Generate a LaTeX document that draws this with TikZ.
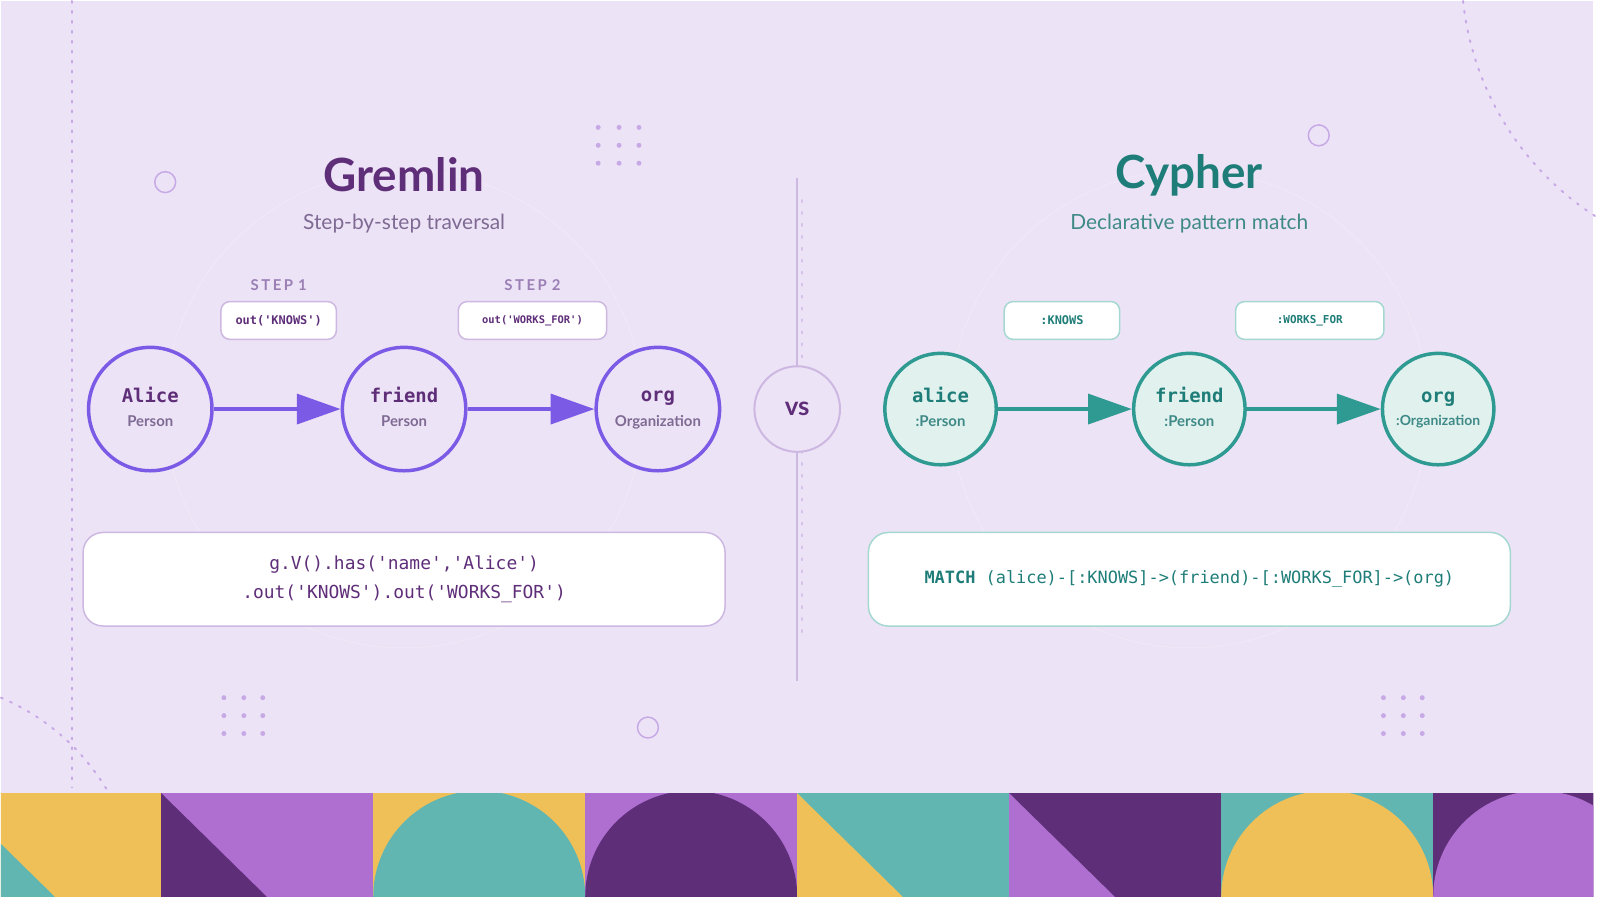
\documentclass[tikz,border=0pt]{standalone}
\usepackage{fontspec}
\usetikzlibrary{arrows.meta}
\setmainfont{Lato}
\setmonofont{DejaVu Sans Mono}
\definecolor{bg}{HTML}{EDE3F6}
\definecolor{gp}{HTML}{5F2E79}
\definecolor{gsub}{HTML}{7F6A94}
\definecolor{gstroke}{HTML}{7B5BE6}
\definecolor{steptxt}{HTML}{9A7FB5}
\definecolor{gbox}{HTML}{CDB8E2}
\definecolor{ct}{HTML}{1E7D78}
\definecolor{csub}{HTML}{3F8A87}
\definecolor{cstroke}{HTML}{2E9A92}
\definecolor{cfill}{HTML}{E0F1EE}
\definecolor{cbox}{HTML}{A6D8D2}
\definecolor{dec}{HTML}{C7A9E6}
\definecolor{yel}{HTML}{EFC058}
\definecolor{teal}{HTML}{62B6B2}
\definecolor{lp}{HTML}{AE6FD0}
\definecolor{dp}{HTML}{5F2E79}
\newcommand{\nm}[2]{{\ttfamily\bfseries\fontsize{19}{22}\selectfont\color{#1}\strut #2}}
\newcommand{\sbl}[2]{{\bfseries\fontsize{15}{18}\selectfont\color{#1}\strut #2}}
\tikzset{
 gnode/.style={circle,draw=gstroke,line width=3.5pt,fill=bg,minimum size=124pt,inner sep=0pt,align=center},
 cnode/.style={circle,draw=cstroke,line width=3.5pt,fill=cfill,minimum size=112pt,inner sep=0pt,align=center},
 garr/.style={draw=gstroke,line width=4pt,-{Triangle[length=44pt,width=30pt]}},
 carr/.style={draw=cstroke,line width=4pt,-{Triangle[length=44pt,width=30pt]}},
 glab/.style={rounded corners=9pt,draw=gbox,line width=1.5pt,fill=white,minimum height=38pt,font=\ttfamily\bfseries\fontsize{12}{14}\selectfont,text=gp},
 clab/.style={rounded corners=9pt,draw=cbox,line width=1.5pt,fill=white,minimum height=38pt,font=\ttfamily\bfseries\fontsize{11}{14}\selectfont,text=ct},
 steplbl/.style={font=\bfseries\fontsize{15}{18}\selectfont,text=steptxt},
 dotc/.style={fill=dec,circle,inner sep=0pt,minimum size=5pt},
 ring/.style={draw=dec,line width=1.5pt,circle,inner sep=0pt,minimum size=21pt},
}
\begin{document}
\begin{tikzpicture}[x=1pt,y=-1pt]
\fill[bg] (0,0) rectangle (1600,900);
\draw[white,opacity=0.2,line width=1pt] (405,410) circle (240);
\draw[white,opacity=0.2,line width=1pt] (1194,410) circle (240);
\draw[dec,line width=2pt,dash pattern=on 2pt off 8pt,line cap=round] (71,0) -- (71,790);
\draw[dec,line width=2pt,dash pattern=on 2pt off 8pt,line cap=round] (1469,0) arc[start angle=174,end angle=122,radius=294];
\draw[dec,line width=2pt,dash pattern=on 2pt off 8pt,line cap=round] (0,700) arc[start angle=-67,end angle=-31,radius=228];
\draw[dec,opacity=0.6,line width=2pt,dash pattern=on 2pt off 10pt,line cap=round] (805,200) -- (805,640);
\foreach \x in {600,621,641} \foreach \y in {127,145,163} \node[dotc] (d1\x\y) at (\x,\y) {};
\foreach \x in {224,244,263} \foreach \y in {700,718,736} \node[dotc] (d2\x\y) at (\x,\y) {};
\foreach \x in {1389,1409,1428} \foreach \y in {700,718,736} \node[dotc] (d3\x\y) at (\x,\y) {};
\node[ring] (r1) at (165,182) {};
\node[ring] (r2) at (1324,135) {};
\node[ring] (r3) at (650,730) {};
\draw[gbox,line width=1.5pt] (800,178) -- (800,683);
\node[circle,draw=gbox,line width=2pt,fill=bg,minimum size=86pt,font=\bfseries\fontsize{26}{30}\selectfont,text=gp] (vs) at (800,410) {vs};
\node[font=\fontseries{b}\fontsize{46}{50}\selectfont,text=gp] (gt) at (405,175) {Gremlin};
\node[font=\fontsize{21}{24}\selectfont,text=gsub] (gs) at (405,224) {Step-by-step traversal};
\node[font=\fontseries{b}\fontsize{46}{50}\selectfont,text=ct] (ctl) at (1194,175) {Cypher};
\node[font=\fontsize{21}{24}\selectfont,text=csub] (cs) at (1194,224) {Declarative pattern match};
\node[gnode] (a) at (150,410) {\nm{gp}{Alice}\\[4pt]\sbl{gsub}{Person}};
\node[gnode] (f) at (405,410) {\nm{gp}{friend}\\[4pt]\sbl{gsub}{Person}};
\node[gnode] (o) at (660,410) {\nm{gp}{org}\\[4pt]\sbl{gsub}{Organization}};
\draw[garr] (a) -- (f);
\draw[garr] (f) -- (o);
\node[steplbl] (s1) at (279,285) {S\,T\,E\,P\,\,1};
\node[steplbl] (s2) at (534,285) {S\,T\,E\,P\,\,2};
\node[glab,minimum width=116pt] (l1) at (279,321) {out('KNOWS')};
\node[glab,minimum width=149pt,font=\ttfamily\bfseries\fontsize{10.5}{14}\selectfont] (l2) at (534,321) {out('WORKS\_FOR')};
\node[draw=gbox,line width=1.5pt,fill=white,rounded corners=20pt,minimum width=645pt,minimum height=94pt,align=center,font=\ttfamily\fontsize{18}{30}\selectfont,text=gp] (gc) at (405,581) {g.V().has('name','Alice')\\.out('KNOWS').out('WORKS\_FOR')};
\node[cnode] (ca) at (944,410) {\nm{ct}{alice}\\[4pt]\sbl{csub}{:Person}};
\node[cnode] (cf) at (1194,410) {\nm{ct}{friend}\\[4pt]\sbl{csub}{:Person}};
\node[cnode] (co) at (1444,410) {\nm{ct}{org}\\[4pt]{\bfseries\fontsize{14}{17}\selectfont\color{csub}\strut :Organization}};
\draw[carr] (ca) -- (cf);
\draw[carr] (cf) -- (co);
\node[clab,minimum width=116pt,font=\ttfamily\bfseries\fontsize{12}{14}\selectfont] (k1) at (1066,321) {:KNOWS};
\node[clab,minimum width=149pt] (k2) at (1315,321) {:WORKS\_FOR};
\node[draw=cbox,line width=1.5pt,fill=white,rounded corners=20pt,minimum width=645pt,minimum height=94pt,font=\ttfamily\fontsize{17}{20}\selectfont,text=ct] (cc) at (1194,581) {\textbf{MATCH} (alice)-[:KNOWS]->(friend)-[:WORKS\_FOR]->(org)};
\begin{scope}
\clip (0,796) rectangle (1600,900);
\foreach \i/\bgc/\fgc/\sh in {0/yel/teal/t,1/lp/dp/t,2/yel/teal/c,3/lp/dp/c,4/teal/yel/t,5/dp/lp/t,6/teal/yel/c,7/dp/lp/c}{
 \pgfmathsetmacro{\xl}{-52+213*\i}
 \fill[\bgc] (\xl,796) rectangle (\xl+213.5,900);
 \if\sh t
  \fill[\fgc] (\xl,796) -- (\xl+106,900) -- (\xl,900) -- cycle;
 \else
  \fill[\fgc] (\xl,900) arc[start angle=180,end angle=360,radius=106.5] -- cycle;
 \fi
}
\end{scope}
\end{tikzpicture}
\end{document}
